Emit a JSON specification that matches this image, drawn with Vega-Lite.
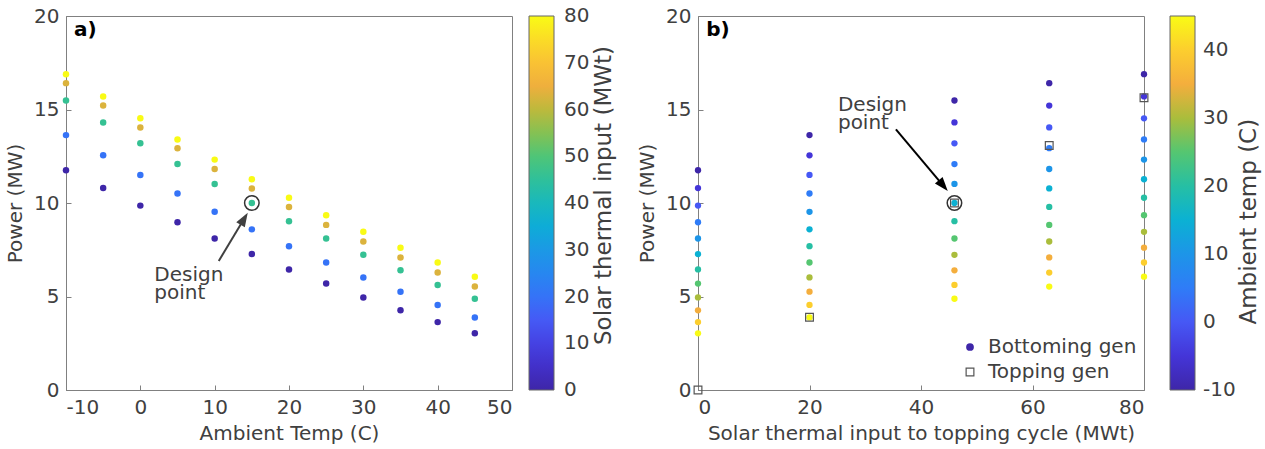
{
  "$schema": "https://vega.github.io/schema/vega-lite/v6.json",
  "background": "white",
  "padding": {"left": 5, "top": 5, "right": 5, "bottom": 5},
  "bounds": "flush",
  "spacing": 186,
  "config": {
    "font": "DejaVu Sans",
    "view": {"stroke": "#808080", "strokeWidth": 1},
    "axis": {"grid": false, "domainColor": "#808080", "tickColor": "#808080", "tickSize": -5, "labelFontSize": 20, "titleFontSize": 20, "labelColor": "#404040", "titleColor": "#404040", "titleFontWeight": "normal", "labelPadding": 12, "labelExpr": "datum.value + ''"},
    "legend": {"labelFontSize": 20, "labelColor": "#404040"}
  },
  "datasets": {
    "grid": [
      {"solar": 0, "temp": -10, "power": 11.75}, {"solar": 0, "temp": -5, "power": 10.8}, {"solar": 0, "temp": 0, "power": 9.86}, {"solar": 0, "temp": 5, "power": 8.97}, {"solar": 0, "temp": 10, "power": 8.1}, {"solar": 0, "temp": 15, "power": 7.27}, {"solar": 0, "temp": 20, "power": 6.45}, {"solar": 0, "temp": 25, "power": 5.69}, {"solar": 0, "temp": 30, "power": 4.95}, {"solar": 0, "temp": 35, "power": 4.26}, {"solar": 0, "temp": 40, "power": 3.63}, {"solar": 0, "temp": 45, "power": 3.03},
      {"solar": 20, "temp": -10, "power": 13.63}, {"solar": 20, "temp": -5, "power": 12.55}, {"solar": 20, "temp": 0, "power": 11.5}, {"solar": 20, "temp": 5, "power": 10.51}, {"solar": 20, "temp": 10, "power": 9.53}, {"solar": 20, "temp": 15, "power": 8.59}, {"solar": 20, "temp": 20, "power": 7.69}, {"solar": 20, "temp": 25, "power": 6.82}, {"solar": 20, "temp": 30, "power": 6.02}, {"solar": 20, "temp": 35, "power": 5.26}, {"solar": 20, "temp": 40, "power": 4.55}, {"solar": 20, "temp": 45, "power": 3.88},
      {"solar": 46, "temp": -10, "power": 15.48}, {"solar": 46, "temp": -5, "power": 14.31}, {"solar": 46, "temp": 0, "power": 13.19}, {"solar": 46, "temp": 5, "power": 12.08}, {"solar": 46, "temp": 10, "power": 11.02}, {"solar": 46, "temp": 15, "power": 10.0}, {"solar": 46, "temp": 20, "power": 9.03}, {"solar": 46, "temp": 25, "power": 8.1}, {"solar": 46, "temp": 30, "power": 7.23}, {"solar": 46, "temp": 35, "power": 6.4}, {"solar": 46, "temp": 40, "power": 5.62}, {"solar": 46, "temp": 45, "power": 4.88},
      {"solar": 63, "temp": -10, "power": 16.41}, {"solar": 63, "temp": -5, "power": 15.21}, {"solar": 63, "temp": 0, "power": 14.04}, {"solar": 63, "temp": 5, "power": 12.93}, {"solar": 63, "temp": 10, "power": 11.82}, {"solar": 63, "temp": 15, "power": 10.78}, {"solar": 63, "temp": 20, "power": 9.79}, {"solar": 63, "temp": 25, "power": 8.83}, {"solar": 63, "temp": 30, "power": 7.94}, {"solar": 63, "temp": 35, "power": 7.09}, {"solar": 63, "temp": 40, "power": 6.28}, {"solar": 63, "temp": 45, "power": 5.53},
      {"solar": 80, "temp": -10, "power": 16.89}, {"solar": 80, "temp": -5, "power": 15.7}, {"solar": 80, "temp": 0, "power": 14.53}, {"solar": 80, "temp": 5, "power": 13.4}, {"solar": 80, "temp": 10, "power": 12.32}, {"solar": 80, "temp": 15, "power": 11.27}, {"solar": 80, "temp": 20, "power": 10.28}, {"solar": 80, "temp": 25, "power": 9.35}, {"solar": 80, "temp": 30, "power": 8.46}, {"solar": 80, "temp": 35, "power": 7.61}, {"solar": 80, "temp": 40, "power": 6.82}, {"solar": 80, "temp": 45, "power": 6.06}
    ],
    "topping": [
      {"solar": 0, "power": 0}, {"solar": 20, "power": 3.89}, {"solar": 46, "power": 10.0}, {"solar": 63, "power": 13.07}, {"solar": 80, "power": 15.63}
    ]
  },
  "hconcat": [
    {
      "width": 446,
      "height": 374,
      "layer": [
        {
          "data": {"name": "grid"},
          "mark": {"type": "circle", "size": 42, "opacity": 1},
          "encoding": {
            "x": {"field": "temp", "type": "quantitative", "scale": {"domain": [-10, 50], "nice": false, "zero": false}, "axis": {"values": [-10, 0, 10, 20, 30, 40, 50], "title": "Ambient Temp (C)", "titlePadding": 6}},
            "y": {"field": "power", "type": "quantitative", "scale": {"domain": [0, 20], "nice": false}, "axis": {"values": [0, 5, 10, 15, 20], "title": "Power (MW)", "titlePadding": 8}},
            "color": {"field": "solar", "type": "quantitative", "scale": {"domain": [0, 80], "range": ["#3e26a8", "#4435d8", "#4658f5", "#2f7cf7", "#1d95e8", "#0bb1d3", "#26bfa4", "#55c671", "#aabd3c", "#f4ae3d", "#fcce2e", "#f9fb15"], "interpolate": "rgb"},
              "legend": {"title": null, "values": [0.01, 10, 20, 30, 40, 50, 60, 70, 79.99], "labelExpr": "round(datum.value) + ''", "gradientLength": 374, "gradientThickness": 25, "gradientStrokeColor": "#666666", "gradientStrokeWidth": 1, "offset": 17, "labelOffset": 10}}
          }
        },
        {
          "data": {"values": [{"temp": 15, "power": 10}]},
          "mark": {"type": "point", "shape": "circle", "size": 210, "filled": false, "stroke": "#333333", "strokeWidth": 1.5, "opacity": 1},
          "encoding": {"x": {"field": "temp", "type": "quantitative"}, "y": {"field": "power", "type": "quantitative"}}
        },
        {
          "data": {"values": [{"temp": 10.55, "power": 6.9, "temp2": 13.62, "power2": 8.93}]},
          "mark": {"type": "rule", "stroke": "#404040", "strokeWidth": 2},
          "encoding": {"x": {"field": "temp", "type": "quantitative"}, "y": {"field": "power", "type": "quantitative"}, "x2": {"field": "temp2"}, "y2": {"field": "power2"}}
        },
        {
          "data": {"values": [{"temp": 14.45, "power": 9.48}]},
          "mark": {"type": "point", "shape": "M0,0L-1,2.8L1,2.8Z", "size": 100, "filled": true, "fill": "#404040", "strokeWidth": 0, "angle": 31, "opacity": 1},
          "encoding": {"x": {"field": "temp", "type": "quantitative"}, "y": {"field": "power", "type": "quantitative"}}
        },
        {
          "data": {"values": [{"temp": 1.88, "power": 6.68, "label": "Design\npoint"}]},
          "mark": {"type": "text", "align": "left", "baseline": "top", "fontSize": 20, "color": "#404040", "lineBreak": "\n", "lineHeight": 18},
          "encoding": {"x": {"field": "temp", "type": "quantitative"}, "y": {"field": "power", "type": "quantitative"}, "text": {"field": "label"}}
        },
        {
          "data": {"values": [{"temp": -8.92, "power": 19.25, "label": "a)"}]},
          "mark": {"type": "text", "align": "left", "baseline": "middle", "fontSize": 20, "fontWeight": "bold", "color": "#000000"},
          "encoding": {"x": {"field": "temp", "type": "quantitative"}, "y": {"field": "power", "type": "quantitative"}, "text": {"field": "label"}}
        },
        {
          "data": {"values": [{"temp": 62.4, "power": 10.4, "label": "Solar thermal input (MWt)"}]},
          "mark": {"type": "text", "align": "center", "baseline": "middle", "angle": 270, "fontSize": 23, "color": "#404040", "clip": false},
          "encoding": {"x": {"field": "temp", "type": "quantitative"}, "y": {"field": "power", "type": "quantitative"}, "text": {"field": "label"}}
        }
      ]
    },
    {
      "width": 446,
      "height": 374,
      "layer": [
        {
          "data": {"name": "grid"},
          "mark": {"type": "point", "filled": true, "size": 40, "opacity": 1, "strokeWidth": 0},
          "encoding": {
            "x": {"field": "solar", "type": "quantitative", "scale": {"domain": [0, 80], "nice": false, "zero": false}, "axis": {"values": [0, 20, 40, 60, 80], "title": "Solar thermal input to topping cycle (MWt)", "titlePadding": 6}},
            "y": {"field": "power", "type": "quantitative", "scale": {"domain": [0, 20], "nice": false}, "axis": {"values": [0, 5, 10, 15, 20], "title": "Power (MW)", "titlePadding": 8}},
            "color": {"field": "temp", "type": "quantitative", "scale": {"domain": [-10, 45], "range": ["#3e26a8", "#4435d8", "#4658f5", "#2f7cf7", "#1d95e8", "#0bb1d3", "#26bfa4", "#55c671", "#aabd3c", "#f4ae3d", "#fcce2e", "#f9fb15"], "interpolate": "rgb", "nice": false},
              "legend": {"title": null, "values": [-9.99, 0, 10, 20, 30, 40], "labelExpr": "round(datum.value) + ''", "gradientLength": 374, "gradientThickness": 25, "gradientStrokeColor": "#666666", "gradientStrokeWidth": 1, "offset": 26, "labelOffset": 8}},
            "stroke": {"datum": "Bottoming gen", "type": "nominal", "scale": {"domain": ["Bottoming gen"], "range": ["#3e26a8"]},
              "legend": {"title": null, "orient": "none", "legendX": 262, "legendY": 321, "padding": 0, "symbolType": "circle", "symbolSize": 60, "symbolFillColor": "#3e26a8", "symbolStrokeWidth": 0, "symbolOpacity": 1, "labelFontSize": 20, "labelOffset": 8}}
          }
        },
        {
          "data": {"name": "topping"},
          "mark": {"type": "point", "filled": false, "size": 60, "stroke": "#555555", "strokeWidth": 1.2, "opacity": 1},
          "encoding": {
            "x": {"field": "solar", "type": "quantitative"},
            "y": {"field": "power", "type": "quantitative"},
            "shape": {"datum": "Topping gen", "type": "nominal", "scale": {"domain": ["Topping gen"], "range": ["square"]},
              "legend": {"title": null, "orient": "none", "legendX": 262, "legendY": 346, "padding": 0, "symbolSize": 60, "symbolFillColor": "transparent", "symbolStrokeColor": "#555555", "symbolStrokeWidth": 1.2, "symbolOpacity": 1, "labelFontSize": 20, "labelOffset": 8}}
          }
        },
        {
          "data": {"values": [{"solar": 46, "power": 10}]},
          "mark": {"type": "point", "shape": "circle", "size": 210, "filled": false, "stroke": "#333333", "strokeWidth": 1.5, "opacity": 1},
          "encoding": {"x": {"field": "solar", "type": "quantitative"}, "y": {"field": "power", "type": "quantitative"}}
        },
        {
          "data": {"values": [{"solar": 35.5, "power": 13.94, "solar2": 43.42, "power2": 11.13}]},
          "mark": {"type": "rule", "stroke": "#000000", "strokeWidth": 2},
          "encoding": {"x": {"field": "solar", "type": "quantitative"}, "y": {"field": "power", "type": "quantitative"}, "x2": {"field": "solar2"}, "y2": {"field": "power2"}}
        },
        {
          "data": {"values": [{"solar": 44.8, "power": 10.64}]},
          "mark": {"type": "point", "shape": "M0,0L-1,2.8L1,2.8Z", "size": 100, "filled": true, "fill": "#000000", "strokeWidth": 0, "angle": 140, "opacity": 1},
          "encoding": {"x": {"field": "solar", "type": "quantitative"}, "y": {"field": "power", "type": "quantitative"}}
        },
        {
          "data": {"values": [{"solar": 25.1, "power": 15.78, "label": "Design\npoint"}]},
          "mark": {"type": "text", "align": "left", "baseline": "top", "fontSize": 20, "color": "#404040", "lineBreak": "\n", "lineHeight": 18},
          "encoding": {"x": {"field": "solar", "type": "quantitative"}, "y": {"field": "power", "type": "quantitative"}, "text": {"field": "label"}}
        },
        {
          "data": {"values": [{"solar": 1.49, "power": 19.25, "label": "b)"}]},
          "mark": {"type": "text", "align": "left", "baseline": "middle", "fontSize": 20, "fontWeight": "bold", "color": "#000000"},
          "encoding": {"x": {"field": "solar", "type": "quantitative"}, "y": {"field": "power", "type": "quantitative"}, "text": {"field": "label"}}
        },
        {
          "data": {"values": [{"solar": 98.8, "power": 9.0, "label": "Ambient temp (C)"}]},
          "mark": {"type": "text", "align": "center", "baseline": "middle", "angle": 270, "fontSize": 23, "color": "#404040", "clip": false},
          "encoding": {"x": {"field": "solar", "type": "quantitative"}, "y": {"field": "power", "type": "quantitative"}, "text": {"field": "label"}}
        }
      ],
      "resolve": {"scale": {"shape": "independent", "stroke": "independent"}, "legend": {"shape": "independent", "stroke": "independent"}}
    }
  ],
  "resolve": {"scale": {"color": "independent", "x": "independent", "y": "independent", "shape": "independent", "stroke": "independent"}, "legend": {"color": "independent", "shape": "independent", "stroke": "independent"}}
}
